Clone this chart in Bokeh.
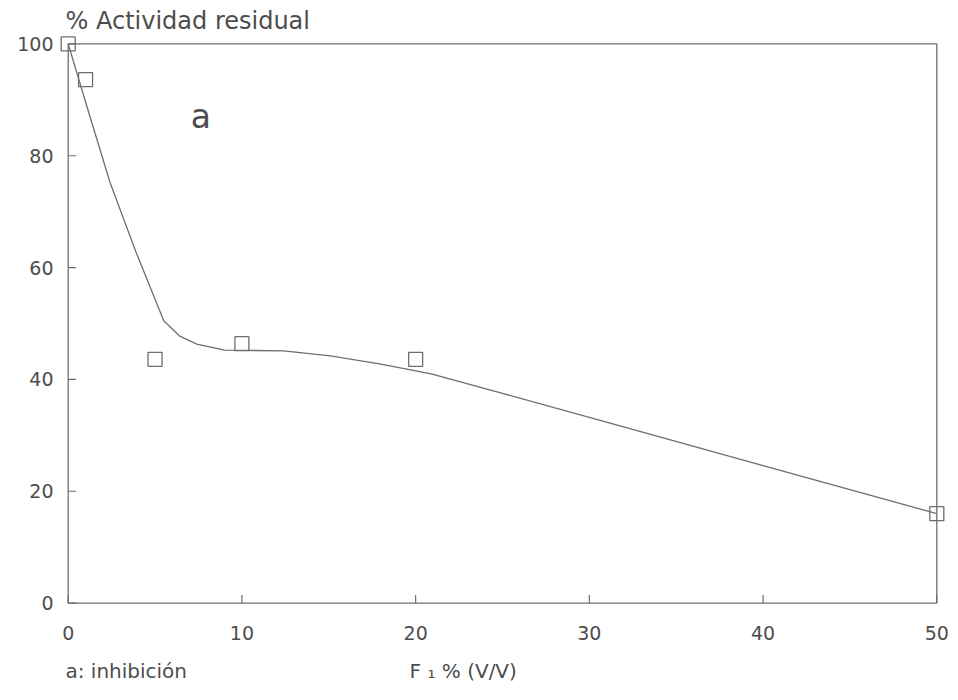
from bokeh.plotting import figure
from bokeh.models import Label, Range1d, FixedTicker, BoxAnnotation, Title
from bokeh.embed import file_html
from bokeh.resources import INLINE

# measured points
conc = [0, 1, 5, 10, 20, 50]
actividad = [100, 93.6, 43.6, 46.4, 43.6, 16.0]

# fitted curve
curve_x = [0, 1, 2.4, 3.9, 5.5, 6.4, 7.4, 9.0, 12.4, 15.1, 18.0, 20.9, 25, 30, 40, 50]
curve_y = [100, 89.6, 75.3, 62.8, 50.5, 47.8, 46.3, 45.25, 45.1, 44.2, 42.75, 41.0, 37.5, 33.2, 24.6, 16.0]

x_ticks = [0, 10, 20, 30, 40, 50]
y_ticks = [0, 20, 40, 60, 80, 100]
X0, X1, Y0, Y1 = 0, 50, 0, 100

TXT = "#4d4d4d"
LN = "#6e6e6e"
FONT = "DejaVu Sans"
NBSP = "\u00a0"

p = figure(width=958, height=700, output_backend="svg", toolbar_location=None,
           x_range=Range1d(X0 - 0.5, X1 + 0.5), y_range=Range1d(Y0 - 1.5, Y1 + 1.5),
           min_border_left=59, min_border_top=35, min_border_right=13, min_border_bottom=89)
p.grid.visible = False
p.outline_line_color = None
p.background_fill_color = "white"
p.border_fill_color = "white"

# plot frame
p.add_layout(BoxAnnotation(left=X0, right=X1, bottom=Y0, top=Y1, fill_color=None,
                           line_color=LN, line_alpha=1.0, line_width=1.3))

for ax in (p.xaxis, p.yaxis):
    ax.axis_line_color = None
    ax.major_tick_line_color = None
    ax.minor_tick_line_color = None
    ax.major_tick_in = 0
    ax.major_tick_out = 0
    ax.major_label_text_color = TXT
    ax.major_label_text_font = FONT
    ax.major_label_text_font_size = "19px"
p.xaxis.ticker = FixedTicker(ticks=x_ticks)
p.yaxis.ticker = FixedTicker(ticks=y_ticks)
p.xaxis.major_label_standoff = 14
p.yaxis.major_label_standoff = 6

# inward tick marks at the tick positions
TLX = 8 / 17.37
TLY = 8 / 5.59
p.segment(x0=x_ticks, y0=[Y0] * len(x_ticks), x1=x_ticks, y1=[Y0 + TLY] * len(x_ticks),
          line_color=LN, line_width=1.2)
p.segment(x0=[X0] * len(y_ticks), y0=y_ticks, x1=[X0 + TLX] * len(y_ticks), y1=y_ticks,
          line_color=LN, line_width=1.2)

p.line(curve_x, curve_y, line_color=LN, line_width=1.3)
p.scatter(conc, actividad, marker="square", size=14, fill_color=None,
          line_color=LN, line_width=1.3)

p.add_layout(Label(x=7.05, y=87, text="a", text_font=FONT, text_font_size="33px",
                   text_color=TXT, text_baseline="middle"))

p.title = Title(text="% Actividad residual", align="left", offset=6, standoff=1,
                text_font=FONT, text_font_size="24px", text_font_style="normal",
                text_color=TXT)

# legend note and x-axis title share the bottom line
bottom_text = "a: inhibición" + NBSP * 35 + "F ₁ % (V/V)"
p.add_layout(Title(text=bottom_text, align="left", offset=6, standoff=28,
                   text_font=FONT, text_font_size="20px", text_font_style="normal",
                   text_color=TXT), "below")

open("out.html", "w").write(file_html(p, INLINE))
